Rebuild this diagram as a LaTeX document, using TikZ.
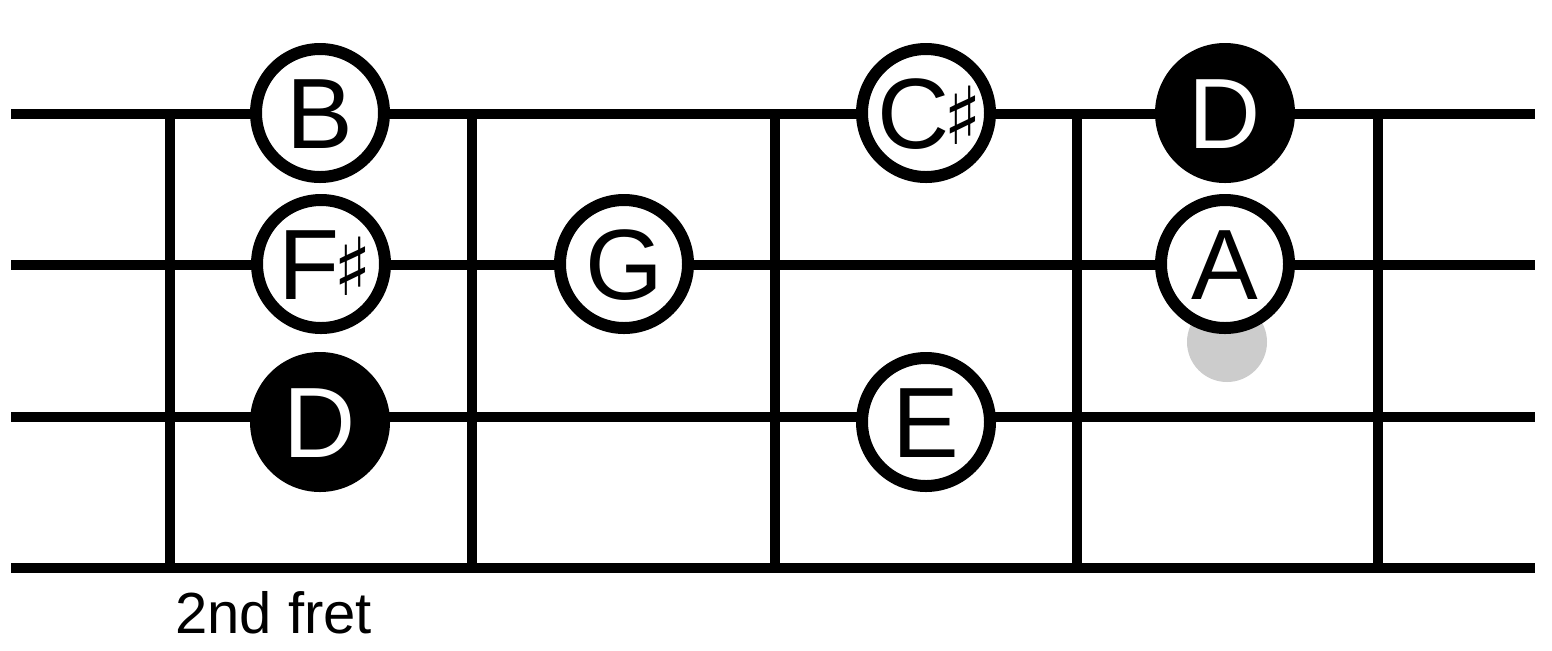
\documentclass[tikz,border=0pt]{standalone}
\usepackage{fontspec}
\setmainfont{Liberation Sans}
\newfontfamily\symfnt{DejaVu Sans}
\newcommand\mysharp{\kern1pt\makebox[11pt][c]{\symfnt\fontsize{40}{40}\selectfont\raisebox{2pt}{♯}}}
\tikzset{
  stringline/.style={line width=5pt, line cap=butt},
  fretline/.style={line width=5pt, line cap=butt},
  note/.style={circle, draw=black, line width=6pt, fill=white, minimum size=64pt,
    inner sep=0pt, font=\fontsize{50}{50}\selectfont, text depth=0pt, text height=35.8pt},
  rootnote/.style={note, fill=black, text=white},
  ghost/.style={circle, fill=black!20, minimum size=40pt, inner sep=0pt},
  fretlabel/.style={anchor=base west, inner sep=0pt, font=\fontsize{29}{29}\selectfont}
}
\begin{document}
\begin{tikzpicture}[x=0.5pt,y=-0.5pt]
\useasboundingbox (0,0) rectangle (1552,650);
% strings
\foreach \s/\y in {1/114,2/265,3/417,4/568} {
  \coordinate (sL\s) at (11,\y);
  \coordinate (sR\s) at (1535,\y);
  \draw[stringline] (sL\s) -- (sR\s);
}
% frets
\foreach \f/\x in {1/170,2/472,3/775,4/1077,5/1378} {
  \coordinate (fT\f) at (\x,114);
  \coordinate (fB\f) at (\x,568);
  \draw[fretline] (fT\f) -- (fB\f);
}
% ghost dot
\node[ghost] (gh) at (1227,342) {};
% notes
\node[note] (nB) at (320,113) {B};
\node[note] (nFs) at (321,264) {F\mysharp};
\node[rootnote] (nD1) at (320,422) {D};
\node[note] (nG) at (624,264) {G};
\node[note] (nCs) at (926,113) {C\mysharp};
\node[note] (nE) at (926,422) {E};
\node[rootnote] (nD2) at (1225,113) {D};
\node[note] (nA) at (1225,264) {A};
% label
\node[fretlabel] (lbl) at (175,633) {2nd fret};
\end{tikzpicture}
\end{document}
